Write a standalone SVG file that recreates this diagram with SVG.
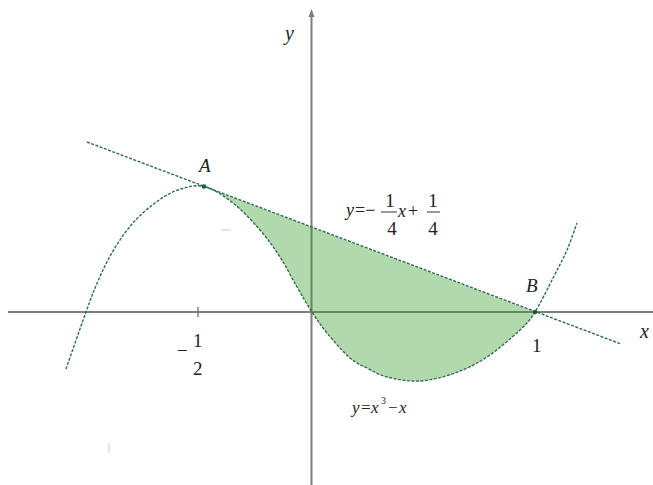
<svg xmlns="http://www.w3.org/2000/svg" width="653" height="485" viewBox="0 0 653 485">
<style>
.axis{stroke:#7d7d7d;stroke-width:2;fill:none}
.tick{stroke:#7d7d7d;stroke-width:1.5}
.dash{fill:none;stroke:#2f6d50;stroke-width:1.4;stroke-dasharray:3 1.5}
.region{fill:#3ca032;fill-opacity:0.4;stroke:none}
.lbl{fill:#222;font-family:'Liberation Serif','Times New Roman','DejaVu Serif',serif}
.it{font-style:italic}
.pt{fill:#1f5a3a}
.faint{stroke:#dcdcdc;stroke-width:1.5}
</style>
<rect width="653" height="485" fill="#ffffff"/>
<g id="axes">
  <line class="axis" x1="8" y1="312" x2="653" y2="312"/>
  <line class="axis" x1="311.5" y1="14" x2="311.5" y2="485"/>
  <path d="M311.5,9 L308.5,17 L314.5,17 Z" fill="#7d7d7d"/>
  <line class="tick" x1="198" y1="307" x2="198" y2="317"/>
</g>
<g id="region">
  <path class="region" d="M204,186.5 C213.2,188.7 223.7,195.75 233,203 C242.3,210.3 252.2,221 260,230 C267.8,239 273.8,247.5 280,257 C286.2,266.5 291.7,277.8 297,287 C302.3,296.2 307,304.3 312,312 C317,319.7 320.7,325.3 327,333 C333.3,340.7 343.3,352.2 350,358 C356.7,363.8 360.8,364.8 367,368 C373.2,371.2 378.2,374.8 387,377 C395.8,379.2 408.7,381.7 420,381 C431.3,380.3 443.8,377 455,373 C466.2,369 476.2,364.2 487,357 C497.8,349.8 512,337.5 520,330 C528,322.5 529.5,320.7 535,312 L204,186.5 Z"/>
</g>
<g id="connectors">
  <path id="curve" class="dash" d="M66,369 C69.3,359.5 80.7,326.7 86,312 C91.3,297.3 93.5,291.2 98,281 C102.5,270.8 107.3,260.5 113,251 C118.7,241.5 125,232 132,224 C139,216 147.3,208.7 155,203 C162.7,197.3 169.8,192.75 178,190 C186.2,187.25 194.8,184.3 204,186.5 C213.2,188.7 223.7,195.75 233,203 C242.3,210.3 252.2,221 260,230 C267.8,239 273.8,247.5 280,257 C286.2,266.5 291.7,277.8 297,287 C302.3,296.2 307,304.3 312,312 C317,319.7 320.7,325.3 327,333 C333.3,340.7 343.3,352.2 350,358 C356.7,363.8 360.8,364.8 367,368 C373.2,371.2 378.2,374.8 387,377 C395.8,379.2 408.7,381.7 420,381 C431.3,380.3 443.8,377 455,373 C466.2,369 476.2,364.2 487,357 C497.8,349.8 512,337.5 520,330 C528,322.5 529.5,320.7 535,312 C540.5,303.3 547.7,288.3 553,278 C558.3,267.7 563,259.2 567,250 C571,240.8 575.3,227.5 577,223"/>
  <line id="tangent" class="dash" x1="87" y1="142" x2="621" y2="344"/>
</g>
<g id="pointA">
  <circle class="pt" cx="204" cy="186.5" r="2.3"/>
  <text class="lbl it" x="199" y="172" font-size="19">A</text>
</g>
<g id="pointB">
  <circle class="pt" cx="535" cy="312" r="2.3"/>
  <text class="lbl it" x="526" y="292" font-size="19">B</text>
</g>
<g id="labels">
  <text class="lbl it" x="285" y="40" font-size="20">y</text>
  <text class="lbl it" x="640" y="338" font-size="20">x</text>
  <text class="lbl" x="532" y="352" font-size="19">1</text>
  <text class="lbl" x="177" y="357" font-size="19">−</text>
  <text class="lbl" x="193" y="347" font-size="19">1</text>
  <text class="lbl" x="193" y="375" font-size="19">2</text>
  <g id="tangent-label">
    <text class="lbl it" x="346" y="216" font-size="18">y</text>
    <text class="lbl" x="355" y="216" font-size="18">=−</text>
    <line x1="381" y1="212" x2="397" y2="212" stroke="#333" stroke-width="1"/>
    <text class="lbl" x="390" y="207" font-size="19" text-anchor="middle">1</text>
    <text class="lbl" x="392" y="235" font-size="19" text-anchor="middle">4</text>
    <text class="lbl it" x="398" y="217" font-size="18">x</text>
    <text class="lbl" x="408" y="217" font-size="18">+</text>
    <line x1="427" y1="212" x2="440" y2="212" stroke="#333" stroke-width="1"/>
    <text class="lbl" x="433" y="207" font-size="19" text-anchor="middle">1</text>
    <text class="lbl" x="433" y="235" font-size="19" text-anchor="middle">4</text>
  </g>
  <g id="curve-label">
    <text class="lbl it" x="352" y="413" font-size="17">y</text>
    <text class="lbl" x="361" y="413" font-size="17">=</text>
    <text class="lbl it" x="371" y="413" font-size="17">x</text>
    <text class="lbl" x="381" y="404" font-size="10">3</text>
    <text class="lbl" x="388" y="413" font-size="17">−</text>
    <text class="lbl it" x="399" y="413" font-size="17">x</text>
  </g>
</g>
<g id="marks">
  <line class="faint" x1="221" y1="230" x2="231" y2="230"/>
  <line class="faint" x1="109" y1="443" x2="109" y2="453"/>
</g>
</svg>
